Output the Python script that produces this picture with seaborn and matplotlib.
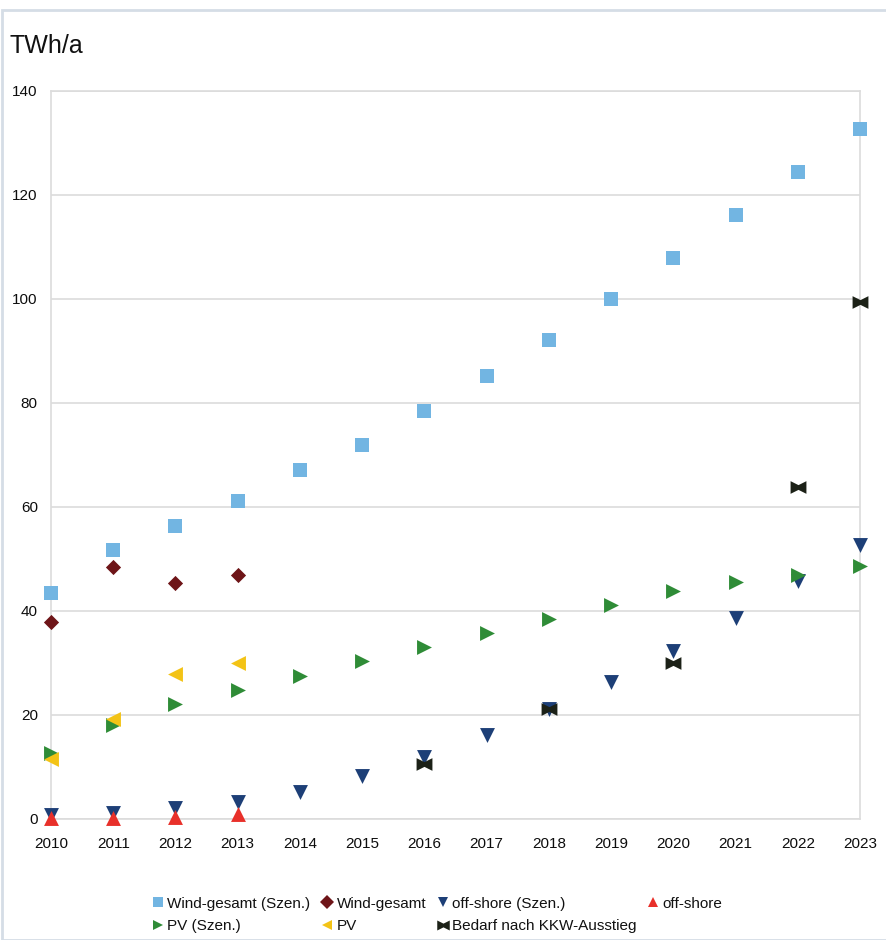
import numpy as np
import pandas as pd
import matplotlib
matplotlib.use("Agg")
import matplotlib.pyplot as plt
from matplotlib.path import Path
from matplotlib.lines import Line2D
from matplotlib.patches import Rectangle
import seaborn as sns

# ---- data (TWh/a) ----
years = list(range(2010, 2024))
wind_total_scen = [43.5, 51.7, 56.3, 61.2, 67.1, 71.9, 78.5, 85.2, 92.1, 100.0, 107.9, 116.2, 124.4, 132.7]
wind_total_years = [2010, 2011, 2012, 2013]
wind_total = [37.8, 48.5, 45.4, 46.9]
offshore_scen = [0.8, 1.2, 2.1, 3.3, 5.2, 8.3, 11.9, 16.2, 21.2, 26.4, 32.3, 38.7, 45.8, 52.7]
offshore_years = [2010, 2011, 2012, 2013]
offshore = [0.1, 0.2, 0.4, 0.9]
pv_scen = [12.7, 18.0, 22.1, 24.8, 27.5, 30.4, 33.1, 35.8, 38.5, 41.2, 43.8, 45.6, 47.0, 48.6]
pv_years = [2010, 2011, 2012, 2013]
pv = [11.5, 19.2, 27.9, 30.0]
demand_years = [2016, 2018, 2020, 2022, 2023]
demand = [10.6, 21.2, 30.0, 63.8, 99.5]

labels = ["Wind-gesamt (Szen.)", "Wind-gesamt", "off-shore (Szen.)", "off-shore",
          "PV (Szen.)", "PV", "Bedarf nach KKW-Ausstieg"]
colors = ["#72b5e2", "#6e1518", "#1d3f77", "#e8302a", "#2f8c37", "#f3c316", "#1c2117"]

# bow-tie marker (two triangles meeting at the centre)
bowtie = Path([(-1, -0.8), (-1, 0.8), (0, 0.3), (1, 0.8), (1, -0.8), (0, -0.3), (-1, -0.8)],
              [Path.MOVETO, Path.LINETO, Path.LINETO, Path.LINETO, Path.LINETO, Path.LINETO,
               Path.CLOSEPOLY])
markers = ["s", "D", "v", "^", ">", "<", bowtie]
sizes = [95, 60, 115, 115, 115, 115, 130]

series = [
    (years, wind_total_scen),
    (wind_total_years, wind_total),
    (years, offshore_scen),
    (offshore_years, offshore),
    (years, pv_scen),
    (pv_years, pv),
    (demand_years, demand),
]

sns.set_theme(style="white")
plt.rcParams["font.family"] = ["Liberation Sans", "DejaVu Sans"]

fig = plt.figure(figsize=(8.86, 9.40), dpi=100)
ax = fig.add_axes([51 / 886, 1 - 819 / 940, (860 - 51) / 886, (819 - 91) / 940])

for (xs, ys), lab, col, mk, sz in zip(series, labels, colors, markers, sizes):
    df = pd.DataFrame({"Jahr": xs, "TWh": ys})
    sns.scatterplot(data=df, x="Jahr", y="TWh", ax=ax, color=col, marker=mk, s=sz,
                    linewidth=0, clip_on=False, zorder=3, legend=False)

ax.set_xlim(2010, 2023)
ax.set_ylim(0, 140)
ax.set_xticks(years)
ax.set_xticklabels([str(y) for y in years])
ax.set_yticks(np.arange(0, 141, 20))
ax.set_xlabel("")
ax.set_ylabel("")

grid_col = "#dcdcdc"
ax.yaxis.grid(True, color=grid_col, linewidth=1.2)
ax.xaxis.grid(False)
for sp in ax.spines.values():
    sp.set_color(grid_col)
    sp.set_linewidth(1.2)
ax.tick_params(axis="both", which="major", direction="out", width=1.2,
               color=grid_col, labelsize=11, labelcolor="#0d0d0d")
ax.tick_params(axis="x", length=4, pad=9)
ax.tick_params(axis="y", length=8, pad=1.5)

fig.text(10 / 886, 1 - 46 / 940, "TWh/a", fontsize=18, color="#111111", va="center", ha="left")

# legend laid out row-wise in four columns
handles = [Line2D([], [], linestyle="none", marker=m, color=c, markersize=7 if i != 6 else 9,
                  markeredgewidth=0)
           for i, (m, c) in enumerate(zip(markers, colors))]
order = [0, 4, 1, 5, 2, 6, 3]
leg = fig.legend([handles[i] for i in order], [labels[i] for i in order], ncol=4,
                 loc="center", bbox_to_anchor=(438 / 886, 1 - 915 / 940), frameon=False,
                 fontsize=11, handlelength=0.6, handletextpad=0.3, columnspacing=0.8,
                 labelspacing=0.55, borderaxespad=0)
for t in leg.get_texts():
    t.set_color("#111111")

# light frame around the whole chart
fig.patches.append(Rectangle((2 / 886, 0), 1.2, 1 - 10 / 940, transform=fig.transFigure,
                             fill=False, edgecolor="#d5dde6", linewidth=2))

fig.savefig("out.png", dpi=100)
